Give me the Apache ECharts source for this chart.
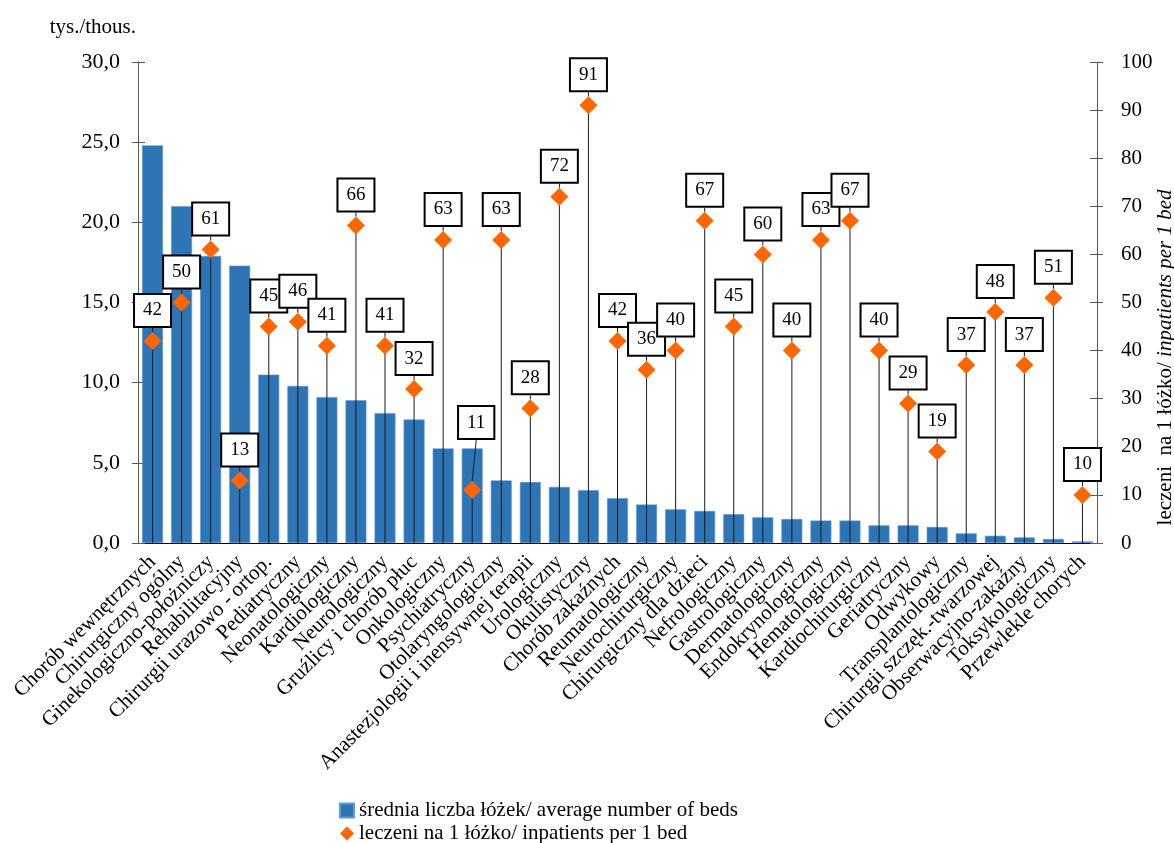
<!DOCTYPE html>
<html>
<head>
<meta charset="utf-8">
<script src="https://cdn.jsdelivr.net/npm/echarts@6/dist/echarts.min.js"></script>
<style>
html,body{margin:0;padding:0;background:#fff;}
#chart{width:1174px;height:843px;}
</style>
</head>
<body>
<div id="chart"></div>
<script>
const categories = [
  'Chorób wewnętrznych','Chirurgiczny ogólny','Ginekologiczno-położniczy','Rehabilitacyjny',
  'Chirurgii urazowo - ortop.','Pediatryczny','Neonatologiczny','Kardiologiczny','Neurologiczny',
  'Gruźlicy i chorób płuc','Onkologiczny','Psychiatryczny','Otolaryngologiczny',
  'Anastezjologii i inensywnej terapii','Urologiczny','Okulistyczny','Chorób zakaźnych',
  'Reumatologiczny','Neurochirurgiczny','Chirurgiczny dla dzieci','Nefrologiczny','Gastrologiczny',
  'Dermatologiczny','Endokrynologiczny','Hematologiczny','Kardiochirurgiczny','Geriatryczny',
  'Odwykowy','Transplantologiczny','Chirurgii szczęk.-twarzowej','Obserwacyjno-zakaźny',
  'Toksykologiczny','Przewlekle chorych'
];
const beds = [24.8, 21.0, 17.9, 17.3, 10.5, 9.8, 9.1, 8.9, 8.1, 7.7, 5.9, 5.9, 3.9, 3.8, 3.5, 3.3, 2.8,
  2.4, 2.1, 2.0, 1.8, 1.6, 1.5, 1.4, 1.4, 1.1, 1.1, 1.0, 0.6, 0.45, 0.35, 0.25, 0.1];
const perBed = [42, 50, 61, 13, 45, 46, 41, 66, 41, 32, 63, 11, 63, 28, 72, 91, 42,
  36, 40, 67, 45, 60, 40, 63, 67, 40, 29, 19, 37, 48, 37, 51, 10];
const leftTicks = {min: 0, max: 30, interval: 5};
const rightTicks = {min: 0, max: 100, interval: 10};

const FONT = 'Liberation Serif';
const chart = echarts.init(document.getElementById('chart'));

const option = {
  backgroundColor: '#fff',
  animation: false,
  textStyle: {fontFamily: FONT, color: '#000'},
  grid: {left: 138, right: 77, top: 62, bottom: 300, containLabel: false, outerBoundsMode: 'none'},
  legend: {
    orient: 'vertical', left: 339, top: 799, height: 60, itemGap: 0, itemWidth: 14, itemHeight: 14,
    padding: 0,
    textStyle: {fontFamily: FONT, fontSize: 21, color: '#000', lineHeight: 23},
    data: [
      {name: 'średnia liczba łóżek/ average number of beds', icon: 'rect'},
      {name: 'leczeni na 1 łóżko/ inpatients per 1 bed', icon: 'diamond'}
    ]
  },
  xAxis: [
    {
      type: 'category', data: categories,
      axisLine: {lineStyle: {color: '#000', width: 1}},
      axisTick: {show: false},
      axisLabel: {rotate: 45, interval: 0, margin: 16, fontFamily: FONT, fontSize: 21, color: '#000'}
    },
    {type: 'category', data: categories, show: false}
  ],
  yAxis: [
    {
      type: 'value', position: 'left', min: leftTicks.min, max: leftTicks.max, interval: leftTicks.interval,
      name: 'tys./thous.', nameLocation: 'end', nameGap: 24,
      nameTextStyle: {fontFamily: FONT, fontSize: 21, color: '#000', align: 'right', padding: [0, 2, 0, 0]},
      axisLine: {show: true, lineStyle: {color: '#595959'}},
      axisTick: {show: true, length: 6, lineStyle: {color: '#595959'}},
      splitLine: {show: false},
      axisLabel: {fontFamily: FONT, fontSize: 22, color: '#000', margin: 18,
        formatter: v => v.toFixed(1).replace('.', ',')}
    },
    {
      type: 'value', position: 'right', min: rightTicks.min, max: rightTicks.max, interval: rightTicks.interval,
      name: '{a|leczeni  na 1 łóżko/ }{b|inpatients per 1 bed}',
      nameLocation: 'middle', nameGap: 58, nameRotate: 90, nameMoveOverlap: false,
      nameTextStyle: {fontFamily: FONT, fontSize: 21, color: '#000', padding: [0, 110, 0, 0],
        rich: {a: {fontFamily: FONT, fontSize: 21, color: '#000'},
               b: {fontFamily: FONT, fontSize: 21, color: '#000', fontStyle: 'italic'}}},
      axisLine: {show: true, lineStyle: {color: '#595959'}},
      axisTick: {show: true, length: 6, lineStyle: {color: '#595959'}},
      splitLine: {show: false},
      axisLabel: {fontFamily: FONT, fontSize: 21, color: '#000', margin: 24}
    },
    {
      type: 'value', position: 'left', min: leftTicks.min, max: leftTicks.max, interval: leftTicks.interval,
      axisLine: {show: false}, axisLabel: {show: false}, splitLine: {show: false},
      axisTick: {show: true, inside: true, length: 7, lineStyle: {color: '#595959'}}
    },
    {
      type: 'value', position: 'right', min: rightTicks.min, max: rightTicks.max, interval: rightTicks.interval,
      axisLine: {show: false}, axisLabel: {show: false}, splitLine: {show: false},
      axisTick: {show: true, inside: true, length: 7, lineStyle: {color: '#595959'}}
    }
  ],
  series: [
    {
      name: 'średnia liczba łóżek/ average number of beds',
      type: 'bar', xAxisIndex: 0, yAxisIndex: 0, data: beds,
      barCategoryGap: '28%',
      itemStyle: {color: '#2E75B6', borderColor: '#5B9BD5', borderWidth: 0.6},
      z: 2
    },
    {
      name: 'drop',
      type: 'bar', xAxisIndex: 1, yAxisIndex: 1, data: perBed,
      barWidth: 1, itemStyle: {color: '#1a1a1a'}, silent: true, z: 3
    },
    {
      name: 'leczeni na 1 łóżko/ inpatients per 1 bed',
      type: 'scatter', xAxisIndex: 0, yAxisIndex: 1, data: perBed,
      symbol: 'diamond', symbolSize: 18,
      itemStyle: {color: '#FF6600', opacity: 1},
      z: 5,
      label: {
        show: true, position: 'top', distance: 6,
        formatter: p => String(Math.round(p.value)),
        fontFamily: FONT, fontSize: 19, lineHeight: 19, color: '#000',
        backgroundColor: '#fff', borderColor: '#000', borderWidth: 2,
        padding: [6, 8, 6, 8]
      },
      labelLine: {show: true, lineStyle: {color: '#1a1a1a', width: 1}},
      labelLayout: p => (p.dataIndex === 11 ? {dx: 4, dy: -37} : {})
    }
  ]
};
chart.setOption(option);
</script>
</body>
</html>
